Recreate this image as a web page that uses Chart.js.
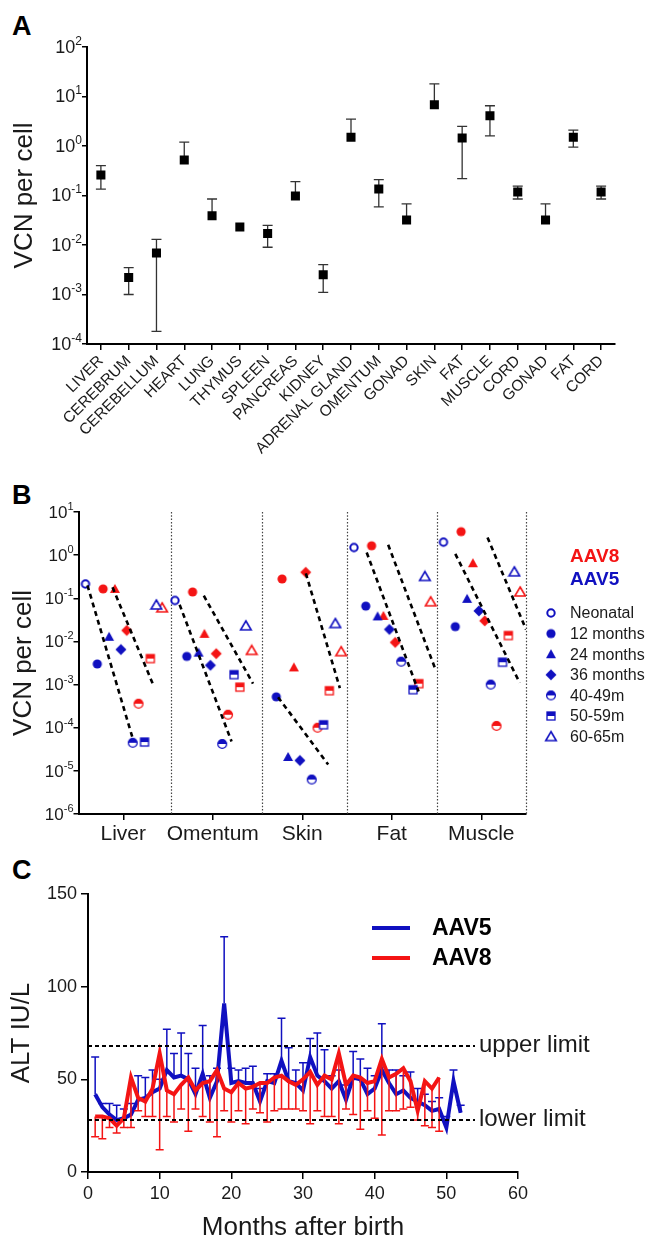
<!DOCTYPE html>
<html>
<head>
<meta charset="utf-8">
<script src="https://cdn.jsdelivr.net/npm/chart.js@4.4.1/dist/chart.umd.min.js"></script>
<style>
  body { margin: 0; background: #fff; width: 650px; height: 1243px; position: relative; overflow: hidden; font-family: "Liberation Sans", Arial, sans-serif; }
  canvas { position: absolute; left: 0; }
  .tag { position: absolute; left: 12px; font-weight: bold; font-size: 27px; color: #000; line-height: 32px; }
</style>
</head>
<body>
<div class="tag" style="top:10px">A</div>
<div class="tag" style="top:479px">B</div>
<div class="tag" style="top:854px">C</div>
<canvas id="tissueChart" width="650" height="478" style="top:0"></canvas>
<canvas id="timeChart" width="650" height="372" style="top:478px"></canvas>
<canvas id="altChart" width="650" height="393" style="top:850px"></canvas>
<script>
// ---- Panel A: VCN per tissue ----
const tissuesA = ["LIVER", "CEREBRUM", "CEREBELLUM", "HEART", "LUNG", "THYMUS", "SPLEEN", "PANCREAS", "KIDNEY",
  "ADRENAL GLAND", "OMENTUM", "GONAD", "SKIN", "FAT", "MUSCLE", "CORD", "GONAD", "FAT", "CORD"];
const vcnMean  = [0.26, 0.0022, 0.0069, 0.52, 0.039, 0.023, 0.017, 0.098, 0.0025, 1.5, 0.135, 0.032, 6.8, 1.45, 4.1, 0.118, 0.032, 1.5, 0.118];
const vcnUpper = [0.40, 0.0035, 0.013, 1.2, 0.085, null, 0.025, 0.19, 0.004, 3.5, 0.21, 0.068, 18, 2.5, 6.5, 0.155, 0.068, 2.1, 0.155];
const vcnLower = [0.135, 0.001, 0.00018, null, null, null, 0.009, null, 0.0011, null, 0.059, null, null, 0.22, 1.6, 0.085, null, 0.95, 0.085];
const decadesA = [1e-4, 1e-3, 1e-2, 1e-1, 1, 10, 100];

// ---- Panel B: VCN over time by tissue ----
const tissuesB = ["Liver", "Omentum", "Skin", "Fat", "Muscle"];
const ageGroups = ["Neonatal", "12 months", "24 months", "36 months", "40-49m", "50-59m", "60-65m"];
const aav5Neonatal = [0.215, 0.089, null, 1.5, 2.0];
const aav5M12 = [0.003, 0.0045, 0.00052, 0.066, 0.022];
const aav5M24 = [0.0128, 0.0055, 0.000021, 0.038, 0.097];
const aav5M36 = [0.0065, 0.0028, 0.0000174, 0.019, 0.051];
const aav5M40 = [0.0000447, 0.000042, 0.0000063, 0.0034, 0.001];
const aav5M50 = [0.0000465, 0.0017, 0.000117, 0.00076, 0.0033];
const aav5M60 = [0.07, 0.023, 0.026, 0.32, 0.41];
const aav8Neonatal = [null, null, null, null, null];
const aav8M12 = [0.165, 0.14, 0.28, 1.65, 3.5];
const aav8M24 = [0.165, 0.015, 0.0025, 0.039, 0.65];
const aav8M36 = [0.018, 0.0052, 0.4, 0.0095, 0.03];
const aav8M40 = [0.00036, 0.0002, 0.0001, null, 0.00011];
const aav8M50 = [0.004, 0.00087, 0.00072, 0.00105, 0.0137];
const aav8M60 = [0.06, 0.0062, 0.0058, 0.083, 0.14];
// dashed decline lines: [x, VCN] start and end
const declineLines = [
  [[0.10, 0.2], [0.60, 6.2e-5]],
  [[0.38, 0.18], [0.84, 9.3e-4]],
  [[1.13, 0.071], [1.71, 4.8e-5]],
  [[1.40, 0.115], [1.95, 1.05e-3]],
  [[2.23, 5.1e-4], [2.79, 1.4e-5]],
  [[2.54, 0.38], [2.92, 8.3e-4]],
  [[3.22, 1.15], [3.80, 6.9e-4]],
  [[3.46, 1.74], [3.99, 2.2e-3]],
  [[4.21, 1.07], [4.93, 1.1e-3]],
  [[4.57, 2.57], [5.0, 0.019]]
];
const dividers = [1.03, 2.05, 3, 4, 5];
const decadesB = [1e-6, 1e-5, 1e-4, 1e-3, 1e-2, 1e-1, 1, 10];

// ---- Panel C: ALT over time ----
const monthsAav5 = [1,2,3,4,5,6,7,8,9,10,11,12,13,14,15,16,17,18,19,20,21,22,23,24,25,26,
  27,28,29,30,31,32,33,34,35,36,37,38,39,40,41,42,43,44,45,46,47,48,49,50,51,52];
const altAav5 = [42,35,31,28,29,31,39,40,43,45,55,51,52,50,42,53,40,49,91,48,49,48,48,38,49,48,
  60,49,48,44,62,52,49,45,49,39,51,50,42,45,55,48,42,44,40,38,36,33,34,24,49,32];
const altAav5Upper = [62,37,37,36,34,37,52,51,55,50,77,64,75,64,56,79,52,56,127,56,55,56,57,45,53,53,
  83,67,55,59,72,75,66,52,55,47,65,61,56,52,80,55,55,52,54,45,42,38,40,30,55,36];
const monthsAav8 = [1,2,3,4,5,6,7,8,9,10,11,12,13,14,15,16,17,18,19,20,21,22,23,24,25,
  26,27,28,29,30,31,32,33,34,35,36,37,38,39,40,41,42,43,44,45,46,47,48,49];
const altAav8 = [30,30,29,25,29,51,40,38,45,64,44,42,47,51,44,48,49,55,45,43,48,45,46,48,48,
  51,52,49,47,50,54,47,52,50,64,47,52,51,48,49,61,51,53,56,49,33,49,45,51];
const altAav8Lower = [19,18,24,21,24,24,33,30,30,12,30,27,34,22,34,30,27,19,33,27,33,26,34,32,27,
  33,34,34,34,33,26,33,30,30,26,34,31,23,33,29,20,33,33,34,35,28,25,24,22];
const upperLimit = 68;
const lowerLimit = 28;
const limitEnd = 54;

const FONT = '"Liberation Sans", Arial, sans-serif';
const INK = "#1a1a1a";
const BLUE = "#1010c0";
const RED = "#f41414";

Chart.defaults.font.family = FONT;
Chart.defaults.color = INK;
Chart.defaults.animation = false;

const noPlugins = { legend: { display: false }, tooltip: { enabled: false } };

// draws "10" with a raised exponent next to a log axis
function drawPowers(chart, scale, baseSize, supSize) {
  const ctx = chart.ctx;
  ctx.save();
  ctx.fillStyle = INK;
  ctx.textBaseline = "middle";
  for (const t of scale.ticks) {
    const y = scale.getPixelForValue(t.value);
    const exp = String(Math.round(Math.log10(t.value)));
    const xr = scale.right - 5;
    ctx.font = supSize + "px " + FONT;
    const w = ctx.measureText(exp).width;
    ctx.textAlign = "left";
    ctx.fillText(exp, xr - w, y - baseSize * 0.3);
    ctx.font = baseSize + "px " + FONT;
    ctx.textAlign = "right";
    ctx.fillText("10", xr - w, y + 1);
  }
  ctx.restore();
}

// ---------------- Panel A ----------------
const errBarsA = {
  id: "errBarsA",
  beforeDatasetsDraw(chart) {
    const ctx = chart.ctx, x = chart.scales.x, y = chart.scales.y;
    ctx.save();
    ctx.strokeStyle = "#333";
    ctx.lineWidth = 1.3;
    vcnMean.forEach((m, i) => {
      const px = x.getPixelForValue(i);
      const py = y.getPixelForValue(m);
      [vcnUpper[i], vcnLower[i]].forEach(e => {
        if (e == null) return;
        const pe = y.getPixelForValue(e);
        ctx.beginPath();
        ctx.moveTo(px, py); ctx.lineTo(px, pe);
        ctx.moveTo(px - 5, pe); ctx.lineTo(px + 5, pe);
        ctx.stroke();
      });
    });
    ctx.restore();
  },
  afterDraw(chart) { drawPowers(chart, chart.scales.y, 18, 12); }
};

new Chart(document.getElementById("tissueChart"), {
  type: "line",
  data: {
    labels: tissuesA,
    datasets: [{
      data: vcnMean,
      showLine: false,
      pointStyle: "rect",
      pointRadius: 6.4,
      backgroundColor: "#000",
      borderColor: "#000",
      borderWidth: 0
    }]
  },
  options: {
    responsive: false,
    layout: { padding: { top: 47, right: 35, left: 0, bottom: 0 } },
    plugins: noPlugins,
    scales: {
      x: {
        offset: true,
        border: { color: "#000", width: 2 },
        grid: { drawOnChartArea: false, color: "#000", lineWidth: 1.5, tickLength: 6, offset: false },
        ticks: { autoSkip: false, maxRotation: 45, minRotation: 45, padding: 2, font: { size: 15.5 }, color: INK },
        afterFit: s => { s.height = 134; }
      },
      y: {
        type: "logarithmic",
        min: 1e-4,
        max: 100,
        border: { color: "#000", width: 2 },
        grid: { drawOnChartArea: false, color: "#000", lineWidth: 1.5, tickLength: 5 },
        ticks: { callback: () => "" },
        afterBuildTicks: s => { s.ticks = decadesA.map(v => ({ value: v })); },
        title: { display: true, text: "VCN per cell", font: { size: 26 }, color: INK, padding: { top: 9, bottom: 0 } },
        afterFit: s => { s.width = 87; }
      }
    }
  },
  plugins: [errBarsA]
});

// ---------------- Panel B ----------------
function makeMarker(shape, color) {
  const c = document.createElement("canvas");
  c.width = 14; c.height = 14;
  const g = c.getContext("2d");
  g.translate(7, 7);
  g.fillStyle = color; g.strokeStyle = color;
  if (shape === "openCircle") {
    g.lineWidth = 2; g.beginPath(); g.arc(0, 0, 3.7, 0, 2 * Math.PI);
    g.fillStyle = "#fff"; g.fill(); g.stroke();
  } else if (shape === "circle") {
    g.beginPath(); g.arc(0, 0, 4.6, 0, 2 * Math.PI); g.fill();
  } else if (shape === "triangle") {
    g.beginPath(); g.moveTo(0, -5); g.lineTo(5, 4); g.lineTo(-5, 4); g.closePath(); g.fill();
  } else if (shape === "diamond") {
    g.beginPath(); g.moveTo(0, -5.5); g.lineTo(5.5, 0); g.lineTo(0, 5.5); g.lineTo(-5.5, 0); g.closePath(); g.fill();
  } else if (shape === "halfCircle") {
    g.fillStyle = "#fff"; g.beginPath(); g.arc(0, 0, 4.4, 0, 2 * Math.PI); g.fill();
    g.fillStyle = color; g.beginPath(); g.arc(0, 0, 4.4, Math.PI, 2 * Math.PI); g.closePath(); g.fill();
    g.lineWidth = 1.3; g.beginPath(); g.arc(0, 0, 4.4, 0, 2 * Math.PI); g.stroke();
  } else if (shape === "halfSquare") {
    g.fillStyle = "#fff"; g.fillRect(-4, -4, 8, 8);
    g.fillStyle = color; g.fillRect(-4, -4, 8, 4);
    g.lineWidth = 1.3; g.strokeRect(-4, -4, 8, 8);
  } else if (shape === "openTriangle") {
    g.lineWidth = 1.6; g.beginPath(); g.moveTo(0, -5); g.lineTo(5.3, 4); g.lineTo(-5.3, 4); g.closePath();
    g.fillStyle = "#fff"; g.fill(); g.stroke();
  }
  return c;
}

const groupShapes = ["openCircle", "circle", "triangle", "diamond", "halfCircle", "halfSquare", "openTriangle"];
const aav5Groups = [aav5Neonatal, aav5M12, aav5M24, aav5M36, aav5M40, aav5M50, aav5M60];
const aav8Groups = [aav8Neonatal, aav8M12, aav8M24, aav8M36, aav8M40, aav8M50, aav8M60];
const blueMarkers = groupShapes.map(s => makeMarker(s, BLUE));
const redMarkers = groupShapes.map(s => makeMarker(s, RED));

const datasetsB = [];
declineLines.forEach(l => {
  datasetsB.push({
    data: [{ x: l[0][0], y: l[0][1] }, { x: l[1][0], y: l[1][1] }],
    showLine: true, pointRadius: 0, borderColor: "#000", borderWidth: 2.6, borderDash: [5, 4]
  });
});
[[aav5Groups, blueMarkers, 0], [aav8Groups, redMarkers, 0.065]].forEach(([groups, markers, shift]) => {
  groups.forEach((vals, g) => {
    const pts = [];
    vals.forEach((v, t) => { if (v != null) pts.push({ x: t + 0.078 + 0.132 * g + shift, y: v }); });
    if (pts.length) datasetsB.push({ data: pts, pointStyle: markers[g], showLine: false });
  });
});

const extrasB = {
  id: "extrasB",
  beforeDatasetsDraw(chart) {
    const ctx = chart.ctx, x = chart.scales.x, a = chart.chartArea;
    ctx.save();
    ctx.strokeStyle = "#444";
    ctx.lineWidth = 1.2;
    ctx.setLineDash([1.5, 1.8]);
    dividers.forEach(d => {
      const px = Math.round(x.getPixelForValue(d)) + 0.5;
      ctx.beginPath(); ctx.moveTo(px, a.top); ctx.lineTo(px, a.bottom); ctx.stroke();
    });
    ctx.restore();
  },
  afterDraw(chart) {
    drawPowers(chart, chart.scales.y, 17, 11);
    const ctx = chart.ctx;
    ctx.save();
    ctx.textBaseline = "middle";
    ctx.textAlign = "left";
    ctx.font = "bold 19px " + FONT;
    ctx.fillStyle = RED; ctx.fillText("AAV8", 570, 79);
    ctx.fillStyle = BLUE; ctx.fillText("AAV5", 570, 102);
    ctx.font = "16px " + FONT;
    ctx.fillStyle = INK;
    ageGroups.forEach((g, i) => {
      const y = 135 + i * 20.6;
      ctx.drawImage(blueMarkers[i], 551 - 7, y - 7);
      ctx.fillText(g, 570, y + 1);
    });
    ctx.restore();
  }
};

new Chart(document.getElementById("timeChart"), {
  type: "scatter",
  data: { datasets: datasetsB },
  options: {
    responsive: false,
    layout: { padding: { top: 34, right: 124, left: 0, bottom: 0 } },
    plugins: noPlugins,
    scales: {
      x: {
        type: "linear", min: 0, max: 5,
        border: { color: "#000", width: 2 },
        grid: { drawOnChartArea: false, color: "#000", lineWidth: 1.5, tickLength: 6 },
        afterBuildTicks: s => { s.ticks = tissuesB.map((t, i) => ({ value: i + 0.5 })); },
        ticks: { autoSkip: false, maxRotation: 0, padding: 2, font: { size: 21 }, color: INK,
          callback: v => tissuesB[Math.floor(v)] },
        afterFit: s => { s.height = 36; }
      },
      y: {
        type: "logarithmic", min: 1e-6, max: 10,
        border: { color: "#000", width: 2 },
        grid: { drawOnChartArea: false, color: "#000", lineWidth: 1.5, tickLength: 5 },
        ticks: { callback: () => "" },
        afterBuildTicks: s => { s.ticks = decadesB.map(v => ({ value: v })); },
        title: { display: true, text: "VCN per cell", font: { size: 26 }, color: INK, padding: { top: 8, bottom: 0 } },
        afterFit: s => { s.width = 78.5; }
      }
    }
  },
  plugins: [extrasB]
});

// ---------------- Panel C ----------------
const extrasC = {
  id: "extrasC",
  beforeDatasetDraw(chart, args) {
    const ds = chart.data.datasets[args.index];
    const errs = ds.errTop || ds.errBottom;
    if (!errs) return;
    const ctx = chart.ctx, x = chart.scales.x, y = chart.scales.y;
    ctx.save();
    ctx.strokeStyle = ds.borderColor;
    ctx.lineWidth = 1.5;
    ds.data.forEach((p, i) => {
      const px = x.getPixelForValue(p.x);
      const py = y.getPixelForValue(p.y);
      const pe = y.getPixelForValue(errs[i]);
      ctx.beginPath();
      ctx.moveTo(px, py); ctx.lineTo(px, pe);
      ctx.moveTo(px - 4, pe); ctx.lineTo(px + 4, pe);
      ctx.stroke();
    });
    ctx.restore();
  },
  afterDraw(chart) {
    const ctx = chart.ctx, x = chart.scales.x, y = chart.scales.y, a = chart.chartArea;
    ctx.save();
    ctx.strokeStyle = "#000";
    ctx.lineWidth = 2;
    ctx.setLineDash([4, 3]);
    const xe = x.getPixelForValue(limitEnd);
    [[upperLimit, "upper limit"], [lowerLimit, "lower limit"]].forEach(([v, label]) => {
      const py = y.getPixelForValue(v);
      ctx.beginPath(); ctx.moveTo(a.left, py); ctx.lineTo(xe, py); ctx.stroke();
      ctx.font = "24px " + FONT;
      ctx.fillStyle = INK;
      ctx.textBaseline = "middle";
      ctx.fillText(label, xe + 4, py - 1);
    });
    ctx.setLineDash([]);
    ctx.lineWidth = 4;
    ctx.font = "bold 23px " + FONT;
    [[BLUE, "AAV5", 78], [RED, "AAV8", 108]].forEach(([c, label, ly]) => {
      ctx.strokeStyle = c;
      ctx.beginPath(); ctx.moveTo(372, ly); ctx.lineTo(410, ly); ctx.stroke();
      ctx.fillStyle = "#000";
      ctx.fillText(label, 432, ly + 1);
    });
    ctx.restore();
  }
};

new Chart(document.getElementById("altChart"), {
  type: "line",
  data: {
    datasets: [
      {
        data: monthsAav5.map((m, i) => ({ x: m, y: altAav5[i] })),
        errTop: altAav5Upper,
        borderColor: BLUE, borderWidth: 4, pointRadius: 0, tension: 0, order: 2
      },
      {
        data: monthsAav8.map((m, i) => ({ x: m, y: altAav8[i] })),
        errBottom: altAav8Lower,
        borderColor: RED, borderWidth: 4, pointRadius: 0, tension: 0, order: 1
      }
    ]
  },
  options: {
    responsive: false,
    layout: { padding: { top: 44, right: 132, left: 0, bottom: 0 } },
    plugins: noPlugins,
    scales: {
      x: {
        type: "linear", min: 0, max: 60,
        border: { color: "#000", width: 2 },
        grid: { drawOnChartArea: false, color: "#000", lineWidth: 1.5, tickLength: 7 },
        ticks: { stepSize: 10, padding: 4, font: { size: 18 }, color: INK },
        title: { display: true, text: "Months after birth", font: { size: 26 }, color: INK, padding: { top: 0, bottom: 0 } },
        afterFit: s => { s.height = 71; }
      },
      y: {
        min: 0, max: 150,
        border: { color: "#000", width: 2 },
        grid: { drawOnChartArea: false, color: "#000", lineWidth: 1.5, tickLength: 7 },
        ticks: { stepSize: 50, padding: 4, font: { size: 18 }, color: INK },
        title: { display: true, text: "ALT IU/L", font: { size: 26 }, color: INK, padding: { top: 6, bottom: 0 } },
        afterFit: s => { s.width = 88; }
      }
    }
  },
  plugins: [extrasC]
});
</script>
</body>
</html>
